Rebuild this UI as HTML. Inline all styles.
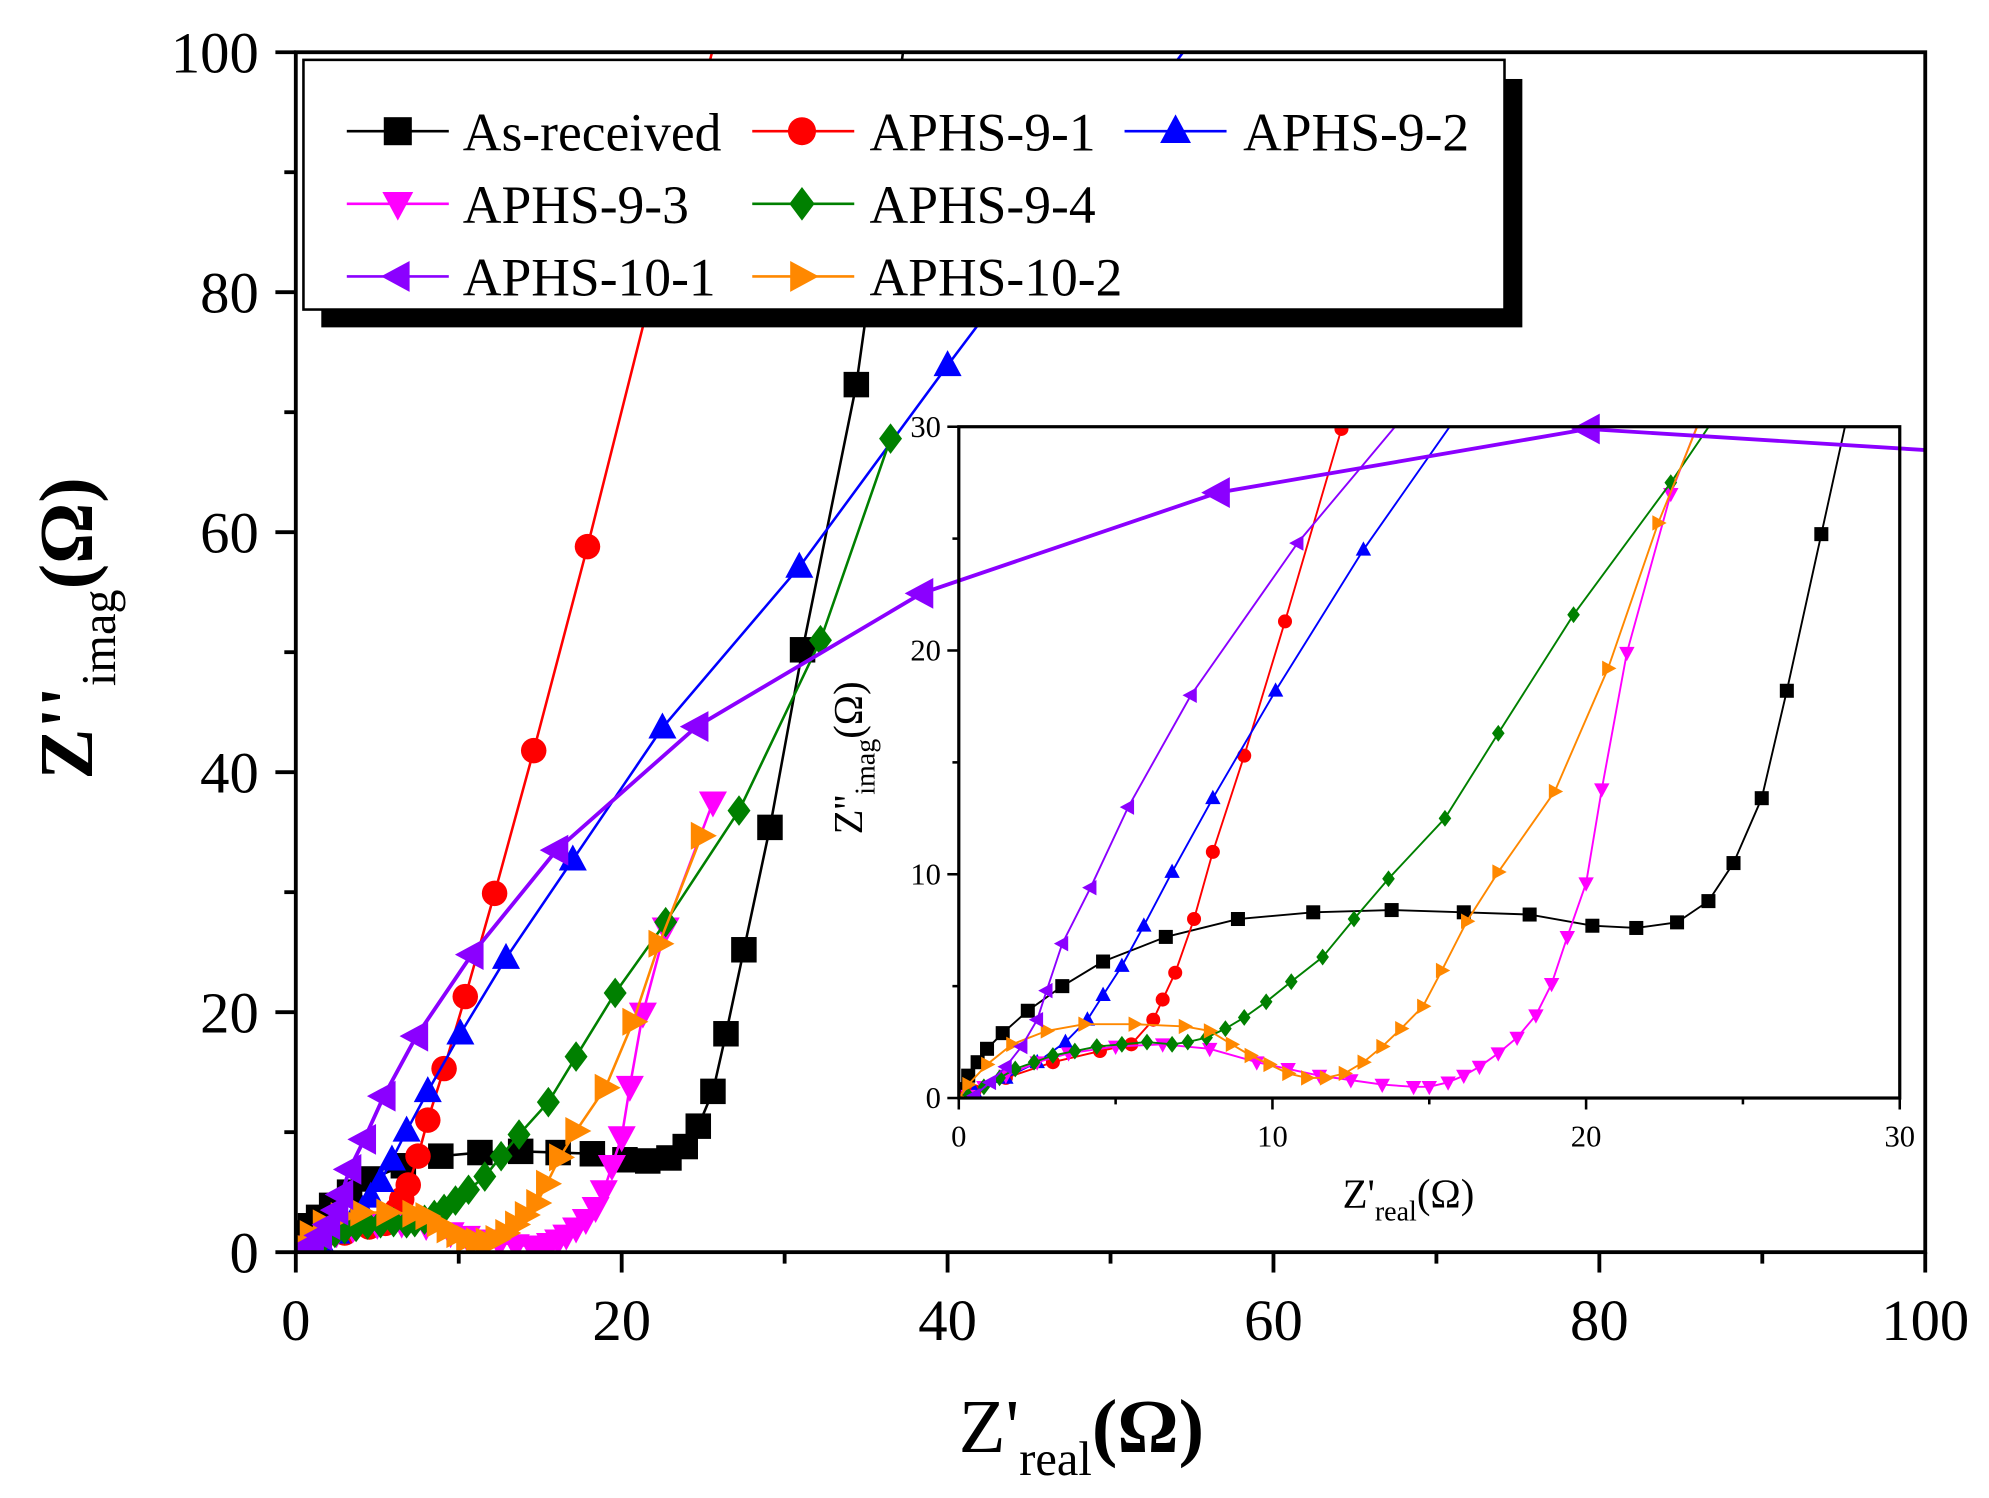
<!DOCTYPE html>
<html><head><meta charset="utf-8">
<style>
html,body{margin:0;padding:0;background:#fff;}
svg{display:block;}
text{font-family:"Liberation Serif",serif;}
</style></head>
<body>
<svg id="s" width="1989" height="1498" viewBox="0 0 1560 1176" preserveAspectRatio="none" xmlns="http://www.w3.org/2000/svg"></svg>
<script>
const S=document.getElementById('s');
let h='';
const M={x0:232,x1:1510,y0:983,y1:41,xr:100,yr:100};
const I={x0:752,x1:1490,y0:862,y1:335,xr:30,yr:30};
function px(A,x){return A.x0+(A.x1-A.x0)*x/A.xr;}
function py(A,y){return A.y0+(A.y1-A.y0)*y/A.yr;}
function marker(t,x,y,s,c){
 if(t=='sq')return `<rect x="${x-s/2}" y="${y-s/2}" width="${s}" height="${s}" fill="${c}"/>`;
 if(t=='ci')return `<circle cx="${x}" cy="${y}" r="${s/2}" fill="${c}"/>`;
 if(t=='di')return `<polygon points="${x},${y-s*0.6} ${x+s*0.45},${y} ${x},${y+s*0.6} ${x-s*0.45},${y}" fill="${c}"/>`;
 const a=s*0.6,b=s*0.55;
 if(t=='up')return `<polygon points="${x},${y-a} ${x+b},${y+a*0.7} ${x-b},${y+a*0.7}" fill="${c}"/>`;
 if(t=='dn')return `<polygon points="${x},${y+a} ${x+b},${y-a*0.7} ${x-b},${y-a*0.7}" fill="${c}"/>`;
 if(t=='lt')return `<polygon points="${x-a},${y} ${x+a*0.7},${y-b} ${x+a*0.7},${y+b}" fill="${c}"/>`;
 if(t=='rt')return `<polygon points="${x+a},${y} ${x-a*0.7},${y-b} ${x-a*0.7},${y+b}" fill="${c}"/>`;
}
const D=[
{c:'#000',m:'sq',d:[[0,0],[0.1,0.4],[0.3,1],[0.6,1.6],[0.9,2.2],[1.4,2.9],[2.2,3.9],[3.3,5],[4.6,6.1],[6.6,7.2],[8.9,8],[11.3,8.3],[13.8,8.4],[16.1,8.3],[18.2,8.2],[20.2,7.7],[21.6,7.6],[22.9,7.85],[23.9,8.8],[24.7,10.5],[25.6,13.4],[26.4,18.2],[27.5,25.2],[29.1,35.4],[31.1,50.2],[34.4,72.3],[38.3,110]]},
{c:'#f00',m:'ci',d:[[0,0],[0.5,0.3],[1.5,0.9],[3,1.6],[4.5,2.1],[5.5,2.4],[6.2,3.5],[6.5,4.4],[6.9,5.6],[7.5,8],[8.1,11],[9.1,15.3],[10.4,21.3],[12.2,29.9],[14.6,41.8],[17.9,58.8],[27.4,110]]},
{c:'#00f',m:'up',d:[[0,0],[0.5,0.3],[1.5,0.9],[2.5,1.6],[3.4,2.5],[4.1,3.5],[4.6,4.6],[5.2,5.9],[5.9,7.7],[6.8,10.1],[8.1,13.4],[10.1,18.2],[12.9,24.5],[17,32.7],[22.5,43.7],[30.9,57.1],[40,73.9],[60,110]]},
{c:'#f0f',m:'dn',d:[[0.3,0.1],[0.8,0.5],[1.5,1],[2.5,1.6],[3.5,2],[5,2.3],[6.5,2.4],[8,2.2],[9.5,1.6],[10.5,1.3],[11.5,1],[12.5,0.8],[13.5,0.6],[14.5,0.5],[15,0.5],[15.6,0.7],[16.1,1],[16.6,1.4],[17.2,2],[17.8,2.7],[18.4,3.7],[18.9,5.1],[19.4,7.2],[20,9.6],[20.5,13.8],[21.3,19.9],[22.7,27],[25.6,37.5]]},
{c:'#008000',m:'di',d:[[0.3,0.1],[0.8,0.5],[1.3,0.9],[1.8,1.3],[2.4,1.6],[3,1.9],[3.7,2.1],[4.4,2.3],[5.2,2.4],[6,2.5],[6.8,2.4],[7.3,2.5],[7.9,2.7],[8.5,3.1],[9.1,3.6],[9.8,4.3],[10.6,5.2],[11.6,6.3],[12.6,8],[13.7,9.8],[15.5,12.5],[17.2,16.3],[19.6,21.6],[22.7,27.5],[27.2,36.8],[32.2,51],[36.5,67.8]]},
{c:'#f80',m:'rt',d:[[0,0],[0.3,0.6],[0.9,1.5],[1.7,2.4],[2.8,3],[4,3.3],[5.6,3.3],[7.2,3.2],[8,3],[8.7,2.4],[9.3,1.9],[9.9,1.5],[10.5,1.1],[11.1,0.9],[11.7,0.9],[12.3,1.1],[12.9,1.6],[13.5,2.3],[14.1,3.1],[14.8,4.1],[15.4,5.7],[16.2,7.9],[17.2,10.1],[19,13.7],[20.7,19.2],[22.3,25.7],[24.9,34.7]]}
];
const P={c:'#8b00ff',m:'lt',d:[[0.5,0.1],[1,0.7],[1.5,1.4],[2,2.3],[2.5,3.5],[2.8,4.8],[3.3,6.9],[4.2,9.4],[5.4,13],[7.4,18],[10.8,24.8],[16,33.5],[24.6,43.8],[38.4,54.9],[56.6,63.3],[79.3,68.6],[110,66]]};
function series(A,s,lw,ms,clip){
 let pts=s.d.map(p=>[px(A,p[0]),py(A,p[1])]);
 let g=`<g ${clip?'clip-path="url(#'+clip+')"':''}><polyline points="${pts.map(p=>p.join(',')).join(' ')}" fill="none" stroke="${s.c}" stroke-width="${lw}"/>`;
 pts.forEach(p=>g+=marker(s.m,p[0],p[1],ms,s.c));
 return g+'</g>';
}
h+=`<defs><clipPath id="cm"><rect x="232" y="41" width="1278" height="942"/></clipPath><clipPath id="ci"><rect x="752" y="335" width="738" height="527"/></clipPath></defs>`;
D.forEach(s=>h+=series(M,s,2,20,'cm'));
h+=`<rect x="752" y="335" width="738" height="527" fill="#fff"/>`;
D.concat([P]).forEach(s=>h+=series(I,s,1.5,11,'ci'));
h+=series(M,P,3,22,'cm');
h+=`<rect x="232" y="41" width="1278" height="942" fill="none" stroke="#000" stroke-width="3"/>`;
for(let v=0;v<=100;v+=10){let x=px(M,v),y=py(M,v),L=v%20?9:16;
 h+=`<line x1="${x}" y1="983" x2="${x}" y2="${983+L}" stroke="#000" stroke-width="3"/>`;
 h+=`<line x1="232" y1="${y}" x2="${232-L}" y2="${y}" stroke="#000" stroke-width="3"/>`;
 if(v%20==0){h+=`<text x="${x}" y="1052" font-size="46" text-anchor="middle">${v}</text>`;
 h+=`<text x="203" y="${y+16}" font-size="46" text-anchor="end">${v}</text>`;}}
h+=`<rect x="752" y="335" width="738" height="527" fill="none" stroke="#000" stroke-width="2.5"/>`;
for(let v=0;v<=30;v+=5){let x=px(I,v),y=py(I,v),L=v%10?5:9;
 h+=`<line x1="${x}" y1="862" x2="${x}" y2="${862+L}" stroke="#000" stroke-width="2"/>`;
 h+=`<line x1="752" y1="${y}" x2="${752-L}" y2="${y}" stroke="#000" stroke-width="2"/>`;
 if(v%10==0){h+=`<text x="${x}" y="900" font-size="24" text-anchor="middle">${v}</text>`;
 h+=`<text x="738" y="${y+8}" font-size="24" text-anchor="end">${v}</text>`;}}
h+=`<text x="1053" y="948" font-size="32">Z'<tspan font-size="22" dy="10">real</tspan><tspan dy="-10">(Ω)</tspan></text>`;
h+=`<text transform="translate(676,655) rotate(-90)" font-size="32">Z''<tspan font-size="22" dy="10">imag</tspan><tspan dy="-10">(Ω)</tspan></text>`;
h+=`<text x="752" y="1140" font-size="60">Z'<tspan font-size="38" dy="18">real</tspan><tspan dy="-18" font-weight="bold">(Ω)</tspan></text>`;
h+=`<text transform="translate(72,612) rotate(-90)" font-size="60" font-weight="bold">Z''<tspan font-size="38" dy="18" font-weight="normal">imag</tspan><tspan dy="-18">(Ω)</tspan></text>`;
h+=`<rect x="252" y="62" width="942" height="195" fill="#000"/>`;
h+=`<rect x="238" y="47" width="942" height="196" fill="#fff" stroke="#000" stroke-width="2"/>`;
const L=[[0,0,0,'As-received'],[1,1,0,'APHS-9-1'],[2,2,0,'APHS-9-2'],[3,0,1,'APHS-9-3'],[4,1,1,'APHS-9-4'],[6,0,2,'APHS-10-1'],[5,1,2,'APHS-10-2']];
const cx=[[272,312,363],[590,629,682],[882,922,975]];
L.forEach(([i,c,r,t])=>{const s=i==6?P:D[i];const y=103+r*57;const [a,m,tx]=cx[c];
 h+=`<line x1="${a}" y1="${y}" x2="${a+80}" y2="${y}" stroke="${s.c}" stroke-width="2"/>`+marker(s.m,m,y,22,s.c);
 h+=`<text x="${tx}" y="${y+15}" font-size="42">${t}</text>`;});
S.innerHTML=h;
</script>
</body></html>
